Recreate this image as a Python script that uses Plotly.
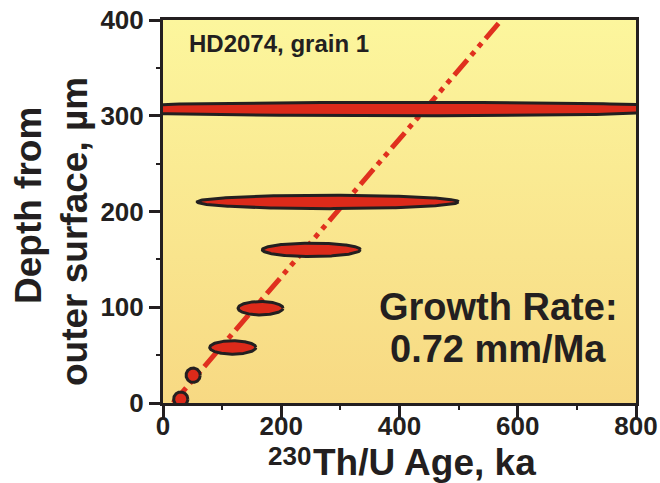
import numpy as np
import plotly.graph_objects as go

# Th/U ages (ka) and depths (µm) with their uncertainties
age_ka = [30, 51, 118, 165, 251, 279, 400]
depth_um = [4, 29, 58, 99, 160, 210, 307]
age_err = [12, 12, 39, 38, 83, 221, 550]
depth_err = [7.5, 7.5, 7, 7, 7, 7, 7]

# Growth-rate regression line
growth_rate = 0.72          # µm/ka  (= mm/Ma)
age_at_surface = 17         # ka, intercept at depth 0
line_depths = [0, 400]

x_ticks = [0, 200, 400, 600, 800]
y_ticks = [0, 100, 200, 300, 400]

INK = "#231F20"
RED = "#DC2A1A"
FONT = "Liberation Sans, Arial, Helvetica, sans-serif"

W, H = 660, 483
L, R, T, B = 163, 24, 20, 80
PW, PH = W - L - R, H - T - B


def px(xp):
    """horizontal pixel -> paper fraction"""
    return (xp - L) / PW


def py(yp):
    """vertical pixel -> paper fraction"""
    return (H - B - yp) / PH


fig = go.Figure()

# gradient background of the plotting area
fig.add_trace(go.Scatter(
    x=[0, 800, 800, 0, 0], y=[0, 0, 400, 400, 0],
    mode="lines", line=dict(width=0), fill="toself",
    fillgradient=dict(type="vertical",
                      colorscale=[[0, "#F7D983"], [1, "#FCF69D"]]),
    hoverinfo="skip", showlegend=False))

# growth line: depth = rate * (age - t0)
line_ages = [age_at_surface + d / growth_rate for d in line_depths]
fig.add_trace(go.Scatter(
    x=line_ages, y=line_depths, mode="lines",
    line=dict(color="#E0301E", width=5, dash="20px,6px,5px,6px,5px,6px"),
    hoverinfo="skip", showlegend=False))

# error ellipses
theta = np.linspace(0, 2 * np.pi, 240)
for a, d, ea, ed in zip(age_ka, depth_um, age_err, depth_err):
    fig.add_trace(go.Scatter(
        x=a + ea * np.cos(theta), y=d + ed * np.sin(theta),
        mode="lines", fill="toself", fillcolor=RED,
        line=dict(color=INK, width=3),
        hoverinfo="skip", showlegend=False))


def label(text, x, y, size, **kw):
    fig.add_annotation(text=text, x=x, y=y, showarrow=False,
                       font=dict(family=FONT, size=size, color=INK, weight="bold"),
                       **kw)


label("HD2074, grain 1", 40, 375, 24, xref="x", yref="y",
      xanchor="left", yanchor="middle")
label("Growth Rate:", 567, 100, 38, xref="x", yref="y",
      xanchor="center", yanchor="middle")
label("0.72 mm/Ma", 567, 56, 38, xref="x", yref="y",
      xanchor="center", yanchor="middle")

# axis titles
label("Th/U Age, ka", px(311), py(463), 37, xref="paper", yref="paper",
      xanchor="left", yanchor="middle")
label("230", px(313), py(456), 26, xref="paper", yref="paper",
      xanchor="right", yanchor="middle")
label("Depth from", px(28), py(206), 37, xref="paper", yref="paper",
      xanchor="center", yanchor="middle", textangle=-90)
label("outer surface, µm", px(74), py(232), 37, xref="paper", yref="paper",
      xanchor="center", yanchor="middle", textangle=-90)

axis_common = dict(
    showgrid=False, zeroline=False, showline=True, linecolor=INK,
    linewidth=3, mirror=True, ticks="outside", tickcolor=INK,
    tickwidth=3, tickfont=dict(family=FONT, size=26, color=INK, weight="bold"),
)

fig.update_xaxes(
    **axis_common, range=[0, 800], tickvals=x_ticks, ticklen=12,
    ticklabelstandoff=-14,
    minor=dict(ticks="outside", dtick=100, ticklen=4, tickwidth=2, tickcolor=INK))
fig.update_yaxes(
    **axis_common, range=[0, 400], tickvals=y_ticks, ticklen=11,
    minor=dict(ticks="outside", dtick=50, ticklen=4, tickwidth=2, tickcolor=INK))

fig.update_layout(
    width=W, height=H,
    margin=dict(l=L, r=R, t=T, b=B, autoexpand=False),
    paper_bgcolor="white", plot_bgcolor="white",
    showlegend=False,
)

fig.write_html("out.html")
